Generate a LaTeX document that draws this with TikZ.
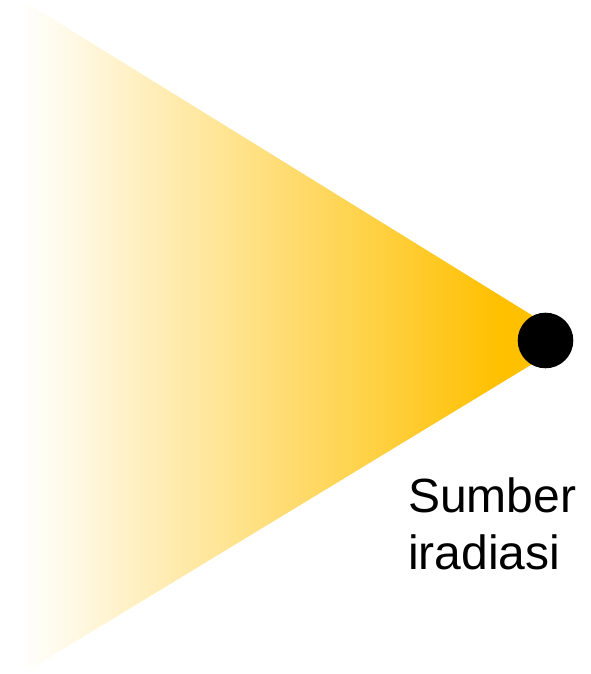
\documentclass[tikz,border=0pt]{standalone}
\usepackage{fontspec}
\setmainfont{Liberation Sans}
\usetikzlibrary{positioning}
\definecolor{BeamColor}{RGB}{255,192,0}
\tikzset{
  srcdot/.style={circle, fill=black, minimum size=55.6pt, inner sep=0pt},
  srclabel/.style={font=\fontsize{48}{57}\selectfont, align=left, inner sep=0pt},
}

\begin{document}
\begin{tikzpicture}[x=1pt, y=1pt]
      \useasboundingbox (0,0) rectangle (590,674);
      \coordinate (beamtop) at (22,674);
      \coordinate (beambot) at (22,0);
      \coordinate (apex) at (572,334);

      % beam, white to gold
      \begin{scope}
        \clip (beamtop) -- (apex) -- (beambot) -- cycle;
        \shade[left color=white, right color=BeamColor] (22,0) rectangle (500,674);
        \fill[BeamColor] (500,0) rectangle (590,674);
      \end{scope}

      \node[srcdot] (src) at (545.5,333.5) {};
      % base anchor sits on the last line
      \node[srclabel, anchor=base west] (lbl) at (408,104) {Sumber\\iradiasi};
    \end{tikzpicture}
\end{document}
